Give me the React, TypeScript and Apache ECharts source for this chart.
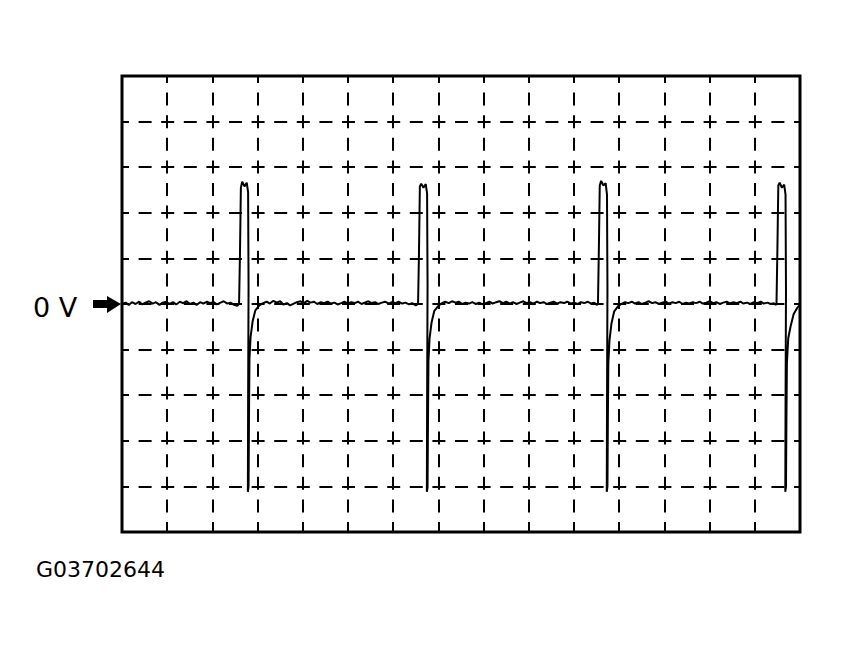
import React, { useEffect, useRef } from "react";
import * as echarts from "echarts";

// Time axis in divisions (0..15), voltage axis in divisions (-5..5), 0 V at centre line
const xDivisions = [0, 15];
const yDivisions = [-5, 5];

const baseline0: [number, number][] = [
  [0, 0.0], [0.08, 0.03], [0.15, -0.02], [0.22, 0.04], [0.3, 0.0], [0.38, 0.05], [0.45, -0.01], [0.52, 0.03],
  [0.6, 0.06], [0.68, 0.01], [0.75, 0.04], [0.83, -0.02], [0.9, 0.03], [0.98, 0.05], [1.05, 0.0], [1.13, 0.04],
  [1.2, -0.01], [1.28, 0.05], [1.35, 0.02], [1.43, 0.06], [1.5, 0.0], [1.58, 0.03], [1.65, -0.02], [1.73, 0.04],
  [1.8, 0.01], [1.88, 0.05], [1.95, 0.02], [2.03, 0.04], [2.1, -0.01], [2.18, 0.03], [2.25, 0.06], [2.33, 0.01],
  [2.4, 0.03], [2.48, -0.02], [2.55, -0.04],
];
const spike1: [number, number][] = [
  [2.59, 0], [2.61, 1.1], [2.63, 2.55], [2.66, 2.68], [2.71, 2.58], [2.76, 2.66], [2.79, 2.45], [2.8, 0.4],
  [2.79, -2.2], [2.785, -4.12], [2.8, -4.0], [2.81, -2.4], [2.82, -1.2], [2.845, -0.72], [2.89, -0.38],
  [2.95, -0.14], [3.04, -0.03],
];
const baseline1: [number, number][] = [
  [3.12, 0.02], [3.2, 0.05], [3.27, 0.01], [3.35, 0.07], [3.42, 0.03], [3.5, 0.06], [3.57, -0.01], [3.65, 0.02],
  [3.72, -0.03], [3.8, 0.01], [3.87, 0.04], [3.95, 0.06], [4.02, 0.02], [4.1, 0.07], [4.17, 0.03], [4.25, 0.05],
  [4.32, 0.0], [4.4, 0.04], [4.47, 0.02], [4.55, 0.05], [4.62, 0.01], [4.7, 0.03], [4.77, -0.01], [4.85, 0.02],
  [4.92, 0.05], [5.0, 0.01], [5.07, 0.04], [5.15, 0.02], [5.22, 0.05], [5.3, 0.0], [5.37, 0.03], [5.45, 0.06],
  [5.52, 0.02], [5.6, 0.04], [5.67, 0.0], [5.75, 0.03], [5.82, 0.05], [5.9, 0.01], [5.97, 0.04], [6.05, 0.02],
  [6.12, 0.05], [6.2, 0.01], [6.27, 0.03], [6.35, -0.01], [6.42, 0.02], [6.5, -0.03],
];
const spike2: [number, number][] = [
  [6.55, 0], [6.57, 1.1], [6.59, 2.58], [6.62, 2.64], [6.67, 2.55], [6.72, 2.63], [6.75, 2.42], [6.76, 0.4],
  [6.75, -2.2], [6.745, -4.12], [6.76, -4.02], [6.77, -2.5], [6.78, -1.25], [6.805, -0.75], [6.85, -0.4],
  [6.91, -0.15], [7.0, -0.04],
];
const baseline2: [number, number][] = [
  [7.08, 0.02], [7.15, 0.05], [7.23, 0.02], [7.3, 0.06], [7.38, 0.03], [7.45, 0.05], [7.53, 0.0], [7.6, 0.03],
  [7.68, 0.01], [7.75, 0.04], [7.83, 0.0], [7.9, 0.03], [7.98, -0.01], [8.05, 0.02], [8.13, 0.05], [8.2, 0.01],
  [8.28, 0.04], [8.35, 0.06], [8.43, 0.02], [8.5, 0.05], [8.58, 0.01], [8.65, 0.04], [8.73, 0.0], [8.8, 0.03],
  [8.88, 0.06], [8.95, 0.02], [9.03, 0.04], [9.1, 0.01], [9.18, 0.05], [9.25, 0.02], [9.33, 0.04], [9.4, 0.0],
  [9.48, 0.03], [9.55, 0.05], [9.63, 0.01], [9.7, 0.04], [9.78, 0.02], [9.85, 0.05], [9.93, 0.01], [10.0, 0.03],
  [10.08, 0.0], [10.15, 0.04], [10.23, 0.02], [10.3, 0.05], [10.38, 0.01], [10.45, 0.03], [10.5, -0.02],
];
const spike3: [number, number][] = [
  [10.53, 0], [10.55, 1.2], [10.57, 2.6], [10.6, 2.7], [10.65, 2.6], [10.7, 2.65], [10.73, 2.4], [10.74, 0.3],
  [10.73, -2.3], [10.725, -4.12], [10.74, -4.0], [10.75, -2.4], [10.76, -1.3], [10.785, -0.8], [10.83, -0.42],
  [10.89, -0.16], [10.98, -0.04],
];
const baseline3: [number, number][] = [
  [11.06, 0.01], [11.13, 0.04], [11.2, 0.02], [11.28, 0.05], [11.35, 0.01], [11.43, 0.04], [11.5, 0.0], [11.58, 0.03],
  [11.65, 0.06], [11.73, 0.02], [11.8, 0.04], [11.88, 0.0], [11.95, 0.03], [12.03, 0.05], [12.1, 0.01], [12.18, 0.04],
  [12.25, 0.02], [12.33, 0.05], [12.4, 0.0], [12.48, 0.03], [12.55, 0.01], [12.63, 0.04], [12.7, 0.02], [12.78, 0.05],
  [12.85, 0.01], [12.93, 0.03], [13.0, 0.06], [13.08, 0.02], [13.15, 0.04], [13.23, 0.0], [13.3, 0.03], [13.38, 0.05],
  [13.45, 0.01], [13.53, 0.04], [13.6, 0.02], [13.68, 0.05], [13.75, 0.01], [13.83, 0.03], [13.9, 0.0], [13.98, 0.04],
  [14.05, 0.02], [14.13, 0.05], [14.2, 0.01], [14.28, 0.03], [14.35, 0.0], [14.42, 0.02], [14.46, -0.02],
];
const spike4: [number, number][] = [
  [14.48, 0], [14.5, 1.2], [14.52, 2.6], [14.55, 2.66], [14.6, 2.55], [14.65, 2.62], [14.68, 2.4], [14.69, 0.3],
  [14.68, -2.3], [14.675, -4.12], [14.69, -4.0], [14.7, -2.5], [14.71, -1.3], [14.74, -0.75], [14.79, -0.5],
  [14.86, -0.22], [14.94, -0.08], [15.0, -0.02],
];

const zeroLabel = "0 V";
const figureCode = "G03702644";

export default function App() {
  const ref = useRef<HTMLDivElement>(null);
  useEffect(() => {
    if (!ref.current) return;
    const chart = echarts.init(ref.current, null, { renderer: "svg" });
    const trace = [
      ...baseline0, ...spike1, ...baseline1, ...spike2,
      ...baseline2, ...spike3, ...baseline3, ...spike4,
    ];
    const dashed = {
      show: true,
      lineStyle: { color: "#000", width: 2, type: [13, 9.6] as any, dashOffset: 6 },
    };
    chart.setOption({
      animation: false,
      backgroundColor: "#fff",
      grid: {
        left: 122, top: 76, width: 678, height: 456,
        show: true, borderColor: "#000", borderWidth: 3, backgroundColor: "transparent",
      },
      xAxis: {
        type: "value", min: xDivisions[0], max: xDivisions[1], interval: 1,
        axisLine: { show: false }, axisTick: { show: false }, axisLabel: { show: false },
        splitLine: dashed,
      },
      yAxis: {
        type: "value", min: yDivisions[0], max: yDivisions[1], interval: 1,
        axisLine: { show: false }, axisTick: { show: false }, axisLabel: { show: false },
        splitLine: dashed,
      },
      series: [
        {
          type: "line",
          data: trace,
          showSymbol: false,
          lineStyle: { color: "#000", width: 2 },
          clip: true,
          z: 5,
        },
      ],
      graphic: [
        {
          type: "text", left: 33, top: 294,
          style: { text: zeroLabel, font: "27px 'DejaVu Sans'", fill: "#000" },
        },
        {
          type: "polygon",
          shape: { points: [[93, 300], [107, 300], [107, 296], [121, 304], [107, 313], [107, 308], [93, 308]] },
          style: { fill: "#000" },
        },
        {
          type: "text", left: 36, top: 558,
          style: { text: figureCode, font: "22px 'DejaVu Sans'", fill: "#000" },
        },
      ],
    });
    return () => chart.dispose();
  }, []);
  return (
    <div
      ref={ref}
      style={{ position: "absolute", left: 0, top: 0, width: 841, height: 656 }}
    />
  );
}
